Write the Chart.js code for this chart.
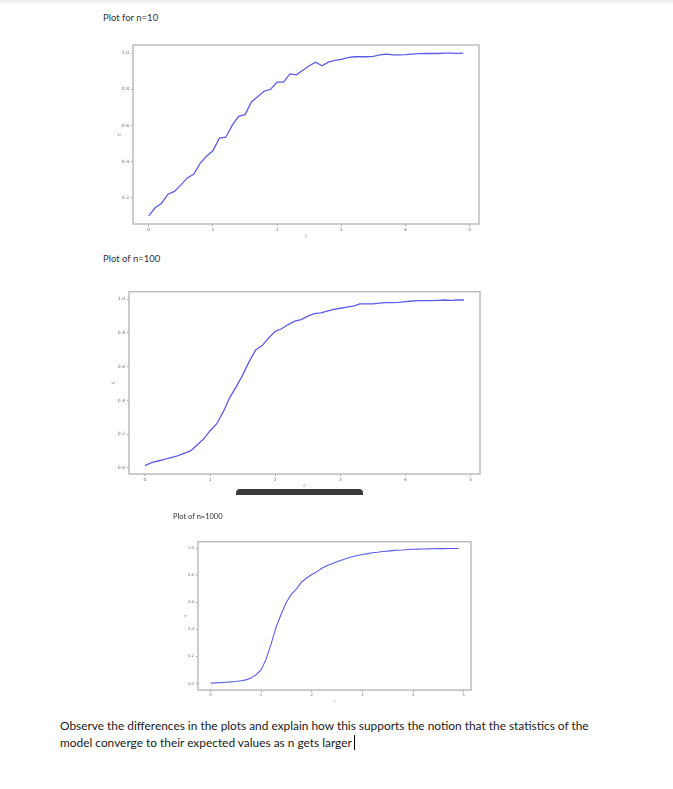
<!DOCTYPE html>
<html>
<head>
<meta charset="utf-8">
<script src="https://cdn.jsdelivr.net/npm/chart.js@4/dist/chart.umd.min.js"></script>
<style>
  html, body { margin: 0; padding: 0; background: #fff; }
  body { width: 673px; height: 789px; position: relative; overflow: hidden; font-family: Lato, "Open Sans", sans-serif; }
  .topbar { position: absolute; left: 0; top: 0; width: 673px; height: 5px; background: linear-gradient(#ececec, #fff); }
  .title { position: absolute; color: #333; white-space: nowrap; }
  canvas { position: absolute; }
  .handle { position: absolute; left: 236px; top: 489px; width: 127px; height: 6px; background: #3b3b3b; border-radius: 4px 4px 0 0; }
  .note { position: absolute; left: 60px; top: 717px; font-size: 11.9px; line-height: 17px; color: #1a1a1a; white-space: nowrap; }
  .caret { display: inline-block; width: 1px; height: 15px; background: #000; vertical-align: -3px; margin-left: 2px; }
</style>
</head>
<body>
<div class="topbar"></div>
<div class="title" style="left:103px; top:12px; font-size:9.5px;">Plot for n=10</div>
<canvas id="plot10" width="390" height="210" style="left:100px; top:35px;"></canvas>
<div class="title" style="left:103px; top:253px; font-size:9.5px;">Plot of n=100</div>
<canvas id="plot100" width="394" height="215" style="left:96px; top:280px;"></canvas>
<div class="handle"></div>
<div class="title" style="left:173px; top:512px; font-size:7.5px;">Plot of n=1000</div>
<canvas id="plot1000" width="316" height="177" style="left:165px; top:531px;"></canvas>
<div class="note">Observe the differences in the plots and explain how this supports the notion that the statistics of the<br>model converge to their expected values as n gets larger<span class="caret"></span></div>
<script>
// shared x grid (c) and tick labels
const xValues = [0, 0.1, 0.2, 0.3, 0.4, 0.5, 0.6, 0.7, 0.8, 0.9,
  1.0, 1.1, 1.2, 1.3, 1.4, 1.5, 1.6, 1.7, 1.8, 1.9,
  2.0, 2.1, 2.2, 2.3, 2.4, 2.5, 2.6, 2.7, 2.8, 2.9,
  3.0, 3.1, 3.2, 3.3, 3.4, 3.5, 3.6, 3.7, 3.8, 3.9,
  4.0, 4.1, 4.2, 4.3, 4.4, 4.5, 4.6, 4.7, 4.8, 4.9];
const xTicks = [0, 1, 2, 3, 4, 5];
const yTicks = [0.0, 0.2, 0.4, 0.6, 0.8, 1.0];

// S values
const sN10 = [0.10, 0.145, 0.17, 0.22, 0.235, 0.27, 0.31, 0.33, 0.39, 0.43,
  0.46, 0.53, 0.535, 0.60, 0.65, 0.66, 0.73, 0.76, 0.79, 0.80,
  0.84, 0.84, 0.885, 0.88, 0.905, 0.93, 0.95, 0.93, 0.95, 0.96,
  0.965, 0.975, 0.98, 0.98, 0.98, 0.982, 0.99, 0.995, 0.99, 0.99,
  0.992, 0.995, 0.997, 0.998, 0.998, 0.998, 1.0, 1.0, 0.999, 1.0];
const sN100 = [0.012, 0.03, 0.04, 0.05, 0.06, 0.07, 0.085, 0.10, 0.135, 0.17,
  0.22, 0.26, 0.33, 0.415, 0.48, 0.55, 0.63, 0.70, 0.725, 0.77,
  0.81, 0.825, 0.85, 0.87, 0.88, 0.90, 0.915, 0.92, 0.93, 0.94,
  0.947, 0.953, 0.96, 0.973, 0.973, 0.973, 0.977, 0.98, 0.98, 0.982,
  0.986, 0.99, 0.992, 0.992, 0.992, 0.994, 0.996, 0.994, 0.996, 0.996];
const sN1000 = [0.002, 0.005, 0.007, 0.01, 0.012, 0.015, 0.02, 0.027, 0.04, 0.065,
  0.10, 0.18, 0.295, 0.42, 0.515, 0.60, 0.66, 0.70, 0.75, 0.78,
  0.805, 0.825, 0.852, 0.87, 0.885, 0.90, 0.913, 0.926, 0.936, 0.946,
  0.953, 0.96, 0.966, 0.97, 0.975, 0.978, 0.982, 0.985, 0.987, 0.99,
  0.992, 0.993, 0.994, 0.995, 0.996, 0.997, 0.997, 0.998, 0.998, 0.998];

// matplotlib-like box around the plot area
const framePlugin = {
  id: 'frame',
  afterDraw(chart) {
    const { ctx, chartArea: a } = chart;
    ctx.save();
    ctx.strokeStyle = '#bdbdbd';
    ctx.lineWidth = 1.5;
    ctx.strokeRect(a.left, a.top, a.right - a.left, a.bottom - a.top);
    ctx.restore();
  },
};

function padRange(vals) {
  const lo = Math.min(...vals);
  const hi = Math.max(...vals);
  const m = (hi - lo) * 0.05;
  return [lo - m, hi + m];
}

function makePlot(canvasId, values, opts) {
  const canvas = document.getElementById(canvasId);
  const [xMin, xMax] = padRange(xValues);
  const [yMin, yMax] = padRange(values);
  const tickFont = { size: opts.tickSize, family: 'DejaVu Sans' };
  const titleFont = { size: opts.tickSize, family: 'DejaVu Sans' };
  return new Chart(canvas, {
    type: 'line',
    data: {
      datasets: [{
        data: xValues.map((x, i) => ({ x, y: values[i] })),
        borderColor: '#5c5ce8',
        borderWidth: opts.lineWidth,
        pointRadius: 0,
        tension: 0,
        fill: false,
      }],
    },
    options: {
      responsive: false,
      animation: false,
      layout: { padding: { left: 0, top: opts.padTop, right: opts.padRight, bottom: 0 } },
      plugins: { legend: { display: false }, tooltip: { enabled: false } },
      scales: {
        x: {
          type: 'linear',
          min: xMin,
          max: xMax,
          afterBuildTicks: (s) => { s.ticks = xTicks.map((v) => ({ value: v })); },
          afterFit: (s) => { s.height = opts.xAxisH; },
          grid: { drawOnChartArea: false, drawTicks: true, tickLength: 2, color: '#aaa' },
          border: { display: false },
          ticks: { font: tickFont, color: '#6f6f6f', padding: 1, maxRotation: 0, callback: (v) => String(v) },
          title: { display: true, text: 'c', font: titleFont, color: '#888', padding: { top: 0, bottom: opts.xTitlePad } },
        },
        y: {
          min: yMin,
          max: yMax,
          afterBuildTicks: (s) => {
            s.ticks = yTicks.filter((v) => v >= yMin && v <= yMax).map((v) => ({ value: v }));
          },
          afterFit: (s) => { s.width = opts.yAxisW; },
          grid: { drawOnChartArea: false, drawTicks: true, tickLength: 2, color: '#aaa' },
          border: { display: false },
          ticks: { font: tickFont, color: '#6f6f6f', padding: 2, callback: (v) => v.toFixed(1) },
          title: { display: true, text: 'S', font: titleFont, color: '#888', padding: { top: opts.yTitlePad, bottom: 0 } },
        },
      },
    },
    plugins: [framePlugin],
  });
}

makePlot('plot10', sN10, { padTop: 10, padRight: 11, xAxisH: 21, yAxisW: 33, tickSize: 4.5, lineWidth: 1.3, yTitlePad: 17, xTitlePad: 6 });
makePlot('plot100', sN100, { padTop: 11.7, padRight: 10, xAxisH: 21, yAxisW: 33, tickSize: 4.5, lineWidth: 1.3, yTitlePad: 15, xTitlePad: 6 });
makePlot('plot1000', sN1000, { padTop: 10.7, padRight: 10, xAxisH: 18, yAxisW: 33, tickSize: 3.8, lineWidth: 1.1, yTitlePad: 19, xTitlePad: 5 });
</script>
</body>
</html>
